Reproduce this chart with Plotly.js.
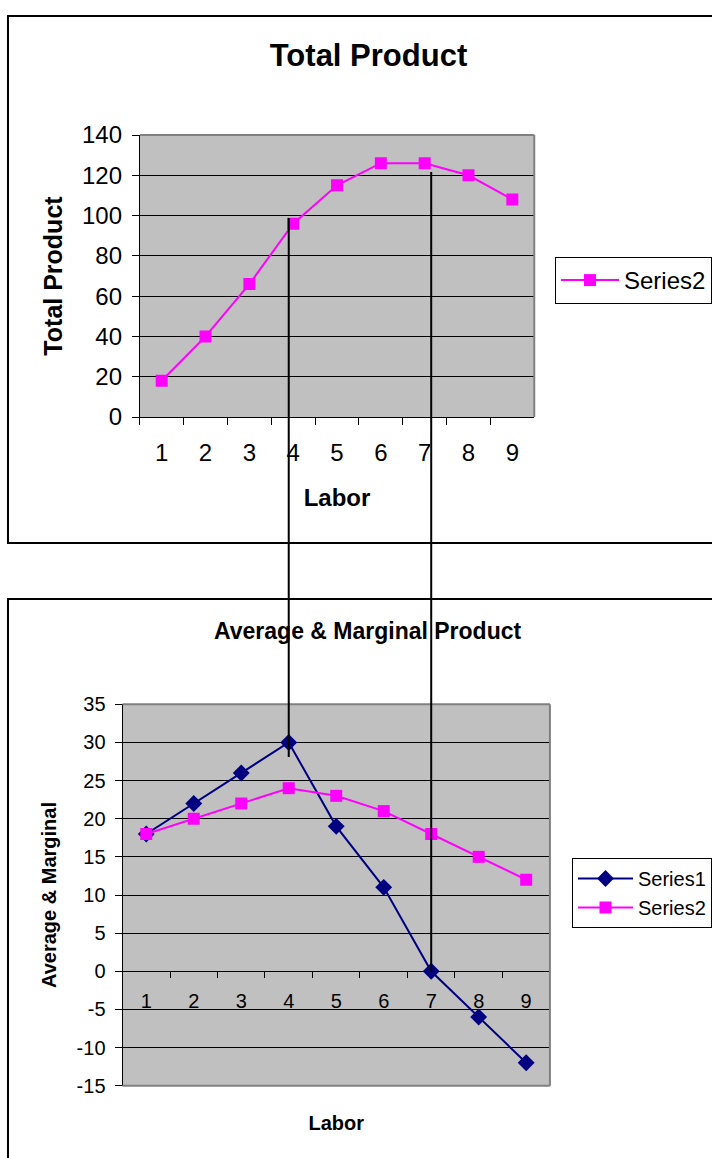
<!DOCTYPE html>
<html>
<head>
<meta charset="utf-8">
<script src="https://cdn.plot.ly/plotly-3.0.1.min.js"></script>
<style>
  html, body { margin: 0; padding: 0; background: #ffffff; }
  #chart { width: 712px; height: 1158px; }
</style>
</head>
<body>
<div id="chart"></div>
<script>
// ---- data ----
const labor = ['1', '2', '3', '4', '5', '6', '7', '8', '9'];
const totalProduct = [18, 40, 66, 96, 115, 126, 126, 120, 108];
const marginalProduct = [18, 22, 26, 30, 19, 11, 0, -6, -12];
const averageProduct = [18, 20, 22, 24, 23, 21, 18, 15, 12];
const topYTicks = [0, 20, 40, 60, 80, 100, 120, 140];
const bottomYTicks = [-15, -10, -5, 0, 5, 10, 15, 20, 25, 30, 35];
const bottomYTickText = bottomYTicks.map(v => String(v));
const dropLineLabor = ['4', '7'];

// ---- layout helpers (pixel -> paper) ----
const W = 712, H = 1158;
const px = v => v / W;
const py = v => 1 - v / H;
const FONT = 'Liberation Sans, Arial, sans-serif';
const MAGENTA = '#FF00FF';
const NAVY = '#000080';

const traces = [
  {
    x: labor, y: totalProduct, name: 'Series2', type: 'scatter', mode: 'lines+markers',
    xaxis: 'x', yaxis: 'y', legend: 'legend',
    line: { color: MAGENTA, width: 2 },
    marker: { symbol: 'square', size: 12, color: MAGENTA }
  },
  {
    x: labor, y: marginalProduct, name: 'Series1', type: 'scatter', mode: 'lines+markers',
    xaxis: 'x2', yaxis: 'y2', legend: 'legend2',
    line: { color: NAVY, width: 2 },
    marker: { symbol: 'diamond', size: 13, color: NAVY }
  },
  {
    x: labor, y: averageProduct, name: 'Series2', type: 'scatter', mode: 'lines+markers',
    xaxis: 'x2', yaxis: 'y2', legend: 'legend2',
    line: { color: MAGENTA, width: 2 },
    marker: { symbol: 'square', size: 12, color: MAGENTA }
  }
];

const greyBorder = { color: '#808080', width: 2 };
const shapes = [
  // outer chart boxes
  { type: 'rect', xref: 'paper', yref: 'paper', x0: px(8), x1: 1.02, y0: py(543), y1: py(16),
    line: { color: '#000', width: 2 }, layer: 'above' },
  { type: 'rect', xref: 'paper', yref: 'paper', x0: px(8), x1: 1.02, y0: -0.05, y1: py(599),
    line: { color: '#000', width: 2 }, layer: 'above' },
  // plot-area borders (grey)
  { type: 'line', xref: 'x domain', yref: 'y domain', x0: 0, x1: 1, y0: 1, y1: 1, line: greyBorder, layer: 'above' },
  { type: 'line', xref: 'x domain', yref: 'y domain', x0: 1, x1: 1, y0: 0, y1: 1, line: greyBorder, layer: 'above' },
  { type: 'line', xref: 'x2 domain', yref: 'y2 domain', x0: 0, x1: 1, y0: 1, y1: 1, line: greyBorder, layer: 'above' },
  { type: 'line', xref: 'x2 domain', yref: 'y2 domain', x0: 1, x1: 1, y0: 0, y1: 1, line: greyBorder, layer: 'above' },
  { type: 'line', xref: 'x2 domain', yref: 'y2 domain', x0: 0, x1: 1, y0: 0, y1: 0, line: greyBorder, layer: 'above' },
  // drop lines linking the two charts
  { type: 'line', xref: 'x2', yref: 'paper', x0: labor.indexOf(dropLineLabor[0]), x1: labor.indexOf(dropLineLabor[0]),
    y0: py(757), y1: py(218), line: { color: '#000', width: 2 }, layer: 'above' },
  { type: 'line', xref: 'x2', yref: 'paper', x0: labor.indexOf(dropLineLabor[1]), x1: labor.indexOf(dropLineLabor[1]),
    y0: py(971), y1: py(172), line: { color: '#000', width: 2 }, layer: 'above' }
];

const layout = {
  width: W, height: H,
  margin: { l: 0, r: 0, t: 0, b: 0 },
  paper_bgcolor: '#ffffff',
  plot_bgcolor: '#C0C0C0',
  font: { family: FONT, color: '#000' },
  showlegend: true,
  title: {
    text: 'Total Product', xref: 'paper', yref: 'paper', x: px(369), y: py(55),
    xanchor: 'center', yanchor: 'middle',
    font: { family: FONT, size: 31, weight: 'bold', color: '#000' }
  },
  xaxis: {
    domain: [px(140), px(535)], anchor: 'y', type: 'category', range: [-0.5, 8.5],
    tickson: 'boundaries', ticks: 'outside', ticklen: 7, tickcolor: '#000', tickwidth: 1,
    showline: true, linecolor: '#000', linewidth: 1, showgrid: false, zeroline: false,
    tickfont: { family: FONT, size: 24, color: '#000' }, ticklabelstandoff: 14,
    title: { text: 'Labor', font: { family: FONT, size: 24, weight: 'bold' }, standoff: 24 },
    fixedrange: true
  },
  yaxis: {
    domain: [py(417), py(135)], anchor: 'x', range: [0, 140], tickvals: topYTicks,
    ticks: 'outside', ticklen: 7, tickcolor: '#000', tickwidth: 1,
    showline: true, linecolor: '#000', linewidth: 1, showgrid: true, gridcolor: '#000', gridwidth: 1,
    zeroline: false, tickfont: { family: FONT, size: 24, color: '#000' }, ticklabelstandoff: 5,
    title: { text: 'Total Product', font: { family: FONT, size: 25, weight: 'bold' }, standoff: 12 },
    fixedrange: true
  },
  xaxis2: {
    domain: [px(122.7), px(550.7)], anchor: 'free', position: py(971), type: 'category', range: [-0.5, 8.5],
    tickson: 'boundaries', ticks: 'outside', ticklen: 6, tickcolor: '#000', tickwidth: 1,
    showline: true, linecolor: '#000', linewidth: 1, showgrid: false, zeroline: false,
    tickfont: { family: FONT, size: 20, color: '#000' }, ticklabelstandoff: 12,
    title: { text: 'Labor', font: { family: FONT, size: 20, weight: 'bold' }, standoff: 104 },
    fixedrange: true
  },
  yaxis2: {
    domain: [py(1085.7), py(704.3)], anchor: 'x2', range: [-15, 35],
    tickvals: bottomYTicks, ticktext: bottomYTickText,
    ticks: 'outside', ticklen: 7, tickcolor: '#000', tickwidth: 1,
    showline: true, linecolor: '#000', linewidth: 1, showgrid: true, gridcolor: '#000', gridwidth: 1,
    zeroline: true, zerolinecolor: '#000', zerolinewidth: 1,
    tickfont: { family: FONT, size: 20, color: '#000' }, ticklabelstandoff: 5,
    title: { text: 'Average & Marginal', font: { family: FONT, size: 20, weight: 'bold' }, standoff: 14 },
    fixedrange: true
  },
  legend: {
    x: px(556), y: py(257), xanchor: 'left', yanchor: 'top',
    bgcolor: '#ffffff', bordercolor: '#000', borderwidth: 1,
    font: { family: FONT, size: 24, color: '#000' }, itemwidth: 58
  },
  legend2: {
    x: px(572), y: py(858), xanchor: 'left', yanchor: 'top',
    bgcolor: '#ffffff', bordercolor: '#000', borderwidth: 1,
    font: { family: FONT, size: 20, color: '#000' }, itemwidth: 55
  },
  annotations: [
    { text: 'Average & Marginal Product', xref: 'paper', yref: 'paper', x: px(369), y: py(631),
      xanchor: 'center', yanchor: 'middle', showarrow: false,
      font: { family: FONT, size: 23, weight: 'bold', color: '#000' } }
  ],
  shapes: shapes
};

Plotly.newPlot('chart', traces, layout, { staticPlot: true, displayModeBar: false });
</script>
</body>
</html>
